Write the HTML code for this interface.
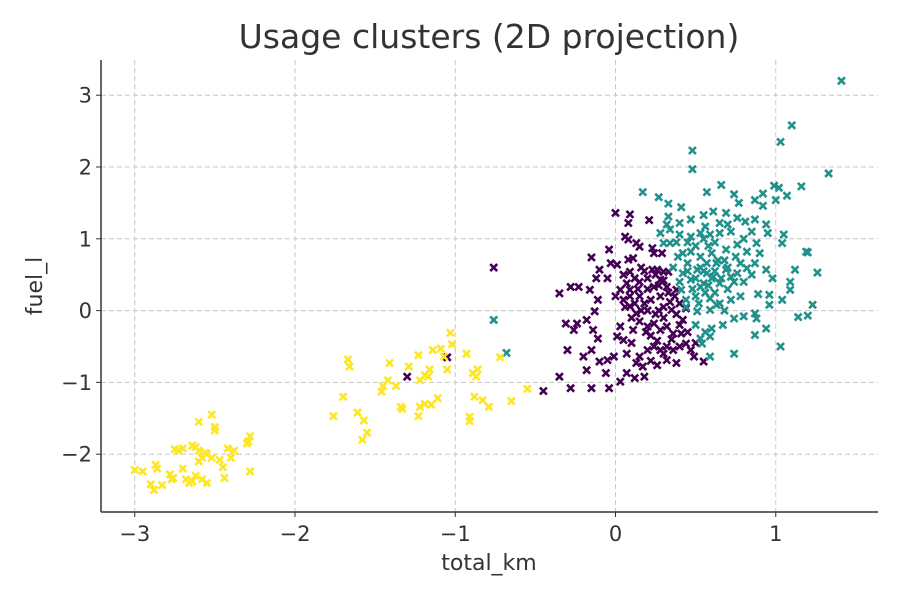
<!DOCTYPE html>
<html><head><meta charset="utf-8"><style>
body{margin:0;background:#fff;}
svg{display:block;font-family:"DejaVu Sans","Liberation Sans",sans-serif;}
</style></head><body>
<svg id="chart" width="900" height="600">
<rect width="900" height="600" fill="#fff"/>
<text x="489" y="48" text-anchor="middle" font-size="33" fill="#333">Usage clusters (2D projection)</text>
<g id="grid"></g>
<g id="pts"></g>
<g id="axes"></g>
<text x="489" y="570" text-anchor="middle" font-size="22" fill="#333">total_km</text>
<text transform="translate(42,286) rotate(-90)" text-anchor="middle" font-size="22" fill="#333">fuel_l</text>
</svg>
<script>
const xTicks=[-3,-2,-1,0,1];
const yTicks=[-2,-1,0,1,2,3];
const clusterNames=['cluster-0','cluster-1','cluster-2'];
const clusterColors=['#440154','#21918c','#fde725'];
const purplePts=[[0,1.36],[0.09,1.34],[0.08,1.22],[0.21,1.26],[0.06,1.03],[0.08,0.99],[0.13,0.94],[0.15,0.89],[0.23,0.87],[0.24,0.8],[0.29,0.8],[-0.04,0.85],[-0.15,0.74],[-0.1,0.57],[-0.12,0.45],[-0.03,0.66],[0.01,0.64],[0.08,0.71],[0.11,0.73],[0.09,0.54],[0.12,0.45],[0.03,0.29],[0.07,0.38],[0.15,0.4],[0.23,0.57],[0.26,0.57],[0.3,0.54],[0.33,0.54],[0.28,0.43],[0.24,0.33],[0.32,0.33],[0.37,0.2],[0.38,0.29],[0.4,0.1],[0.35,0.01],[0.28,0.2],[0.22,0.15],[0.15,0.2],[0.09,0.2],[0.05,0.15],[0.09,0.06],[0.13,-0.04],[0.15,-0.15],[0.11,-0.27],[0.2,-0.22],[0.24,-0.18],[0.28,-0.27],[0.32,-0.22],[0.36,-0.32],[0.41,-0.32],[0.44,-0.46],[0.4,-0.5],[0.36,-0.55],[0.32,-0.5],[0.28,-0.55],[0.24,-0.5],[0.2,-0.55],[0.15,-0.64],[0.13,-0.73],[0.17,-0.78],[0.26,-0.76],[0.32,-0.69],[0.38,-0.73],[0.47,-0.55],[0.49,-0.64],[0.55,-0.71],[0.42,-0.13],[0.44,0.03],[-0.28,0.33],[-0.23,0.33],[-0.35,0.24],[-0.16,0.29],[-0.11,0.15],[-0.13,-0.01],[-0.18,-0.13],[-0.24,-0.18],[-0.31,-0.18],[-0.26,-0.27],[-0.14,-0.27],[-0.11,-0.39],[-0.15,-0.55],[-0.2,-0.64],[-0.18,-0.83],[-0.1,-0.71],[-0.05,-0.69],[-0.01,-0.64],[-0.06,-0.87],[0.03,-0.99],[0.07,-0.87],[0.12,-0.94],[0.18,-0.92],[-0.3,-0.55],[-0.35,-0.92],[-0.28,-1.08],[-0.15,-1.08],[-0.04,-1.08],[-0.45,-1.12],[0.03,-0.22],[0.01,-0.36],[0.05,-0.41],[0.07,-0.6],[0.09,0.29],[-0.76,0.6],[-1.3,-0.92],[-1.05,-0.65],[0.18,0.1],[0.3,0.05],[0.25,-0.05],[0.2,0.45],[0.35,-0.4],[0.1,-0.1],[0.3,-0.1],[0.22,-0.35],[0.4,-0.2],[0.18,0.55],[0.27,0.35],[0.2,0.3],[0.25,0.5],[0.16,0.0],[0.12,0.1],[0.26,-0.42],[0.3,-0.6],[0.22,-0.7],[0.34,0.12],[0.14,0.3],[0.3,0.42],[0.06,0.05],[0.0,0.2],[-0.05,0.45],[0.38,-0.05],[0.45,-0.3],[0.5,-0.45],[0.27,0.0],[0.1,-0.45],[0.2,0.0],[0.33,0.25],[0.19,-0.3],[0.05,0.5],[0.16,0.6]];
const tealPts=[[1.41,3.2],[1.1,2.58],[1.03,2.35],[0.48,2.23],[0.48,1.97],[1.33,1.91],[0.17,1.65],[0.27,1.58],[0.33,1.49],[0.41,1.44],[0.57,1.65],[0.66,1.75],[0.74,1.62],[0.77,1.5],[0.87,1.54],[0.92,1.63],[0.99,1.74],[1.02,1.71],[1.07,1.6],[1.16,1.73],[1,1.54],[0.92,1.46],[0.33,1.31],[0.4,1.22],[0.47,1.27],[0.55,1.33],[0.61,1.38],[0.69,1.36],[0.76,1.29],[0.81,1.24],[0.87,1.27],[0.94,1.2],[0.95,1.08],[1.05,1.06],[1.04,0.94],[0.88,0.94],[0.82,0.82],[0.76,0.92],[0.69,0.85],[0.65,1.08],[0.59,1.06],[0.53,1.08],[0.47,1.03],[0.4,1.06],[0.34,1.13],[0.28,1.08],[0.3,0.94],[0.39,0.75],[0.47,0.82],[0.53,0.75],[0.57,0.66],[0.63,0.66],[0.69,0.57],[0.76,0.52],[0.82,0.59],[0.87,0.66],[0.94,0.57],[0.98,0.45],[1.12,0.57],[1.19,0.82],[1.2,0.81],[1.26,0.53],[1.09,0.4],[1.09,0.29],[1.04,0.15],[0.96,0.22],[0.96,0.08],[0.89,0.23],[0.78,0.2],[0.72,0.15],[0.65,0.1],[0.59,0.17],[0.53,0.33],[0.47,0.43],[0.42,0.52],[0.41,0.29],[0.44,0.15],[0.51,-0.01],[0.59,0.01],[0.63,0.08],[0.74,-0.11],[0.8,-0.08],[0.87,-0.04],[0.88,-0.11],[0.94,-0.25],[0.87,-0.34],[1.14,-0.09],[1.2,-0.07],[1.23,0.08],[1.03,-0.5],[0.74,-0.6],[0.67,-0.2],[0.6,-0.25],[0.59,-0.36],[0.53,-0.39],[0.54,-0.46],[0.59,-0.64],[0.55,0.38],[0.61,0.47],[0.57,0.52],[0.65,0.38],[0.51,0.57],[0.72,0.47],[0.78,0.66],[0.45,0.66],[0.34,0.94],[0.56,1.17],[0.65,1.22],[-0.76,-0.13],[-0.68,-0.59],[0.6,0.45],[0.55,0.55],[0.7,0.3],[0.5,0.2],[0.62,0.25],[0.68,0.7],[0.58,0.9],[0.45,0.95],[0.8,1.0],[0.72,1.1],[0.5,0.45],[0.53,0.6],[0.58,0.35],[0.62,0.55],[0.66,0.45],[0.7,0.6],[0.74,0.4],[0.48,0.3],[0.45,0.55],[0.56,0.25],[0.64,0.7],[0.42,0.8],[0.5,0.9],[0.6,0.8],[0.38,0.95],[0.32,1.2],[0.36,0.6],[0.4,0.4],[0.44,0.05],[0.52,0.1],[0.68,0.0],[0.8,0.4],[0.85,0.5],[0.9,0.8],[0.75,0.75],[0.55,1.0],[0.62,0.95],[0.7,1.2],[0.85,1.1],[0.5,-0.2],[0.56,-0.3]];
const yellowPts=[[-3,-2.22],[-2.95,-2.24],[-2.9,-2.42],[-2.88,-2.5],[-2.83,-2.43],[-2.87,-2.15],[-2.86,-2.2],[-2.78,-2.28],[-2.77,-2.35],[-2.75,-1.93],[-2.73,-1.95],[-2.7,-1.92],[-2.68,-2.35],[-2.66,-2.4],[-2.7,-2.2],[-2.64,-1.88],[-2.62,-1.9],[-2.6,-1.95],[-2.58,-2.05],[-2.62,-2.3],[-2.64,-2.38],[-2.58,-2.35],[-2.6,-2.1],[-2.55,-2],[-2.52,-2.05],[-2.5,-1.62],[-2.5,-1.67],[-2.52,-1.45],[-2.47,-2.08],[-2.45,-2.18],[-2.42,-1.92],[-2.38,-1.95],[-2.4,-2.05],[-2.44,-2.33],[-2.55,-2.4],[-2.6,-1.55],[-2.28,-1.75],[-2.29,-1.82],[-2.3,-1.85],[-2.28,-2.24],[-2.76,-2.33],[-2.56,-1.98],[-1.67,-0.68],[-1.66,-0.78],[-1.7,-1.2],[-1.76,-1.47],[-1.61,-1.42],[-1.57,-1.53],[-1.55,-1.7],[-1.58,-1.8],[-1.41,-0.73],[-1.46,-1.13],[-1.45,-1.05],[-1.42,-0.97],[-1.37,-1.05],[-1.34,-1.34],[-1.33,-1.37],[-1.29,-0.78],[-1.23,-0.62],[-1.22,-0.97],[-1.19,-0.9],[-1.16,-0.82],[-1.17,-0.92],[-1.23,-1.47],[-1.22,-1.34],[-1.19,-1.3],[-1.15,-1.31],[-1.11,-1.22],[-1.14,-0.55],[-1.09,-0.53],[-1.07,-0.64],[-1.05,-0.82],[-1.03,-0.31],[-1.02,-0.47],[-0.93,-0.6],[-0.88,-1.2],[-0.89,-0.87],[-0.86,-0.82],[-0.87,-0.92],[-0.91,-1.48],[-0.91,-1.54],[-0.83,-1.25],[-0.79,-1.34],[-0.72,-0.65],[-0.65,-1.26],[-0.55,-1.09]];
const series=[purplePts,tealPts,yellowPts];

const L=101,R=878,T=60,B=512;
function sx(v){return 615.5+v*160.25;}
function sy(v){return 310.6-v*71.8;}
const NS='http://www.w3.org/2000/svg';
function mk(tag,attrs,parent){const e=document.createElementNS(NS,tag);for(const k in attrs)e.setAttribute(k,attrs[k]);parent.appendChild(e);return e;}
const grid=document.getElementById('grid'),axes=document.getElementById('axes'),pts=document.getElementById('pts');
xTicks.forEach(t=>{
  const x=sx(t);
  const g=mk('line',{x1:x,x2:x,y1:T,y2:B,stroke:'#c8c8c8','stroke-dasharray':'5,3','stroke-width':1},grid);
  
  
  mk('line',{x1:x,x2:x,y1:B,y2:B+5,stroke:'#333','stroke-width':1},axes);
  const lb=mk('text',{x:x,y:B+29,'text-anchor':'middle','font-size':21,fill:'#333'},axes);
  lb.textContent=(t<0?'\u2212'+(-t):String(t));
  
  
});
yTicks.forEach(t=>{
  const y=sy(t);
  const g=mk('line',{x1:L,x2:R,y1:y,y2:y,stroke:'#c8c8c8','stroke-dasharray':'5,3','stroke-width':1},grid);
  
  
  mk('line',{x1:L-5,x2:L,y1:y,y2:y,stroke:'#333','stroke-width':1},axes);
  const lb=mk('text',{x:L-9,y:y+7.5,'text-anchor':'end','font-size':21,fill:'#333'},axes);
  lb.textContent=(t<0?'\u2212'+(-t):String(t));
  
  
});
mk('line',{x1:L,x2:L,y1:T,y2:B,stroke:'#333','stroke-width':1.5},axes);
mk('line',{x1:L,x2:R,y1:B,y2:B,stroke:'#333','stroke-width':1.5},axes);
series.forEach((arr,i)=>{
  arr.forEach(p=>{
    const x=sx(p[0]),y=sy(p[1]),s=3.5;
    const m=mk('path',{d:`M${x-s},${y-s}L${x+s},${y+s}M${x-s},${y+s}L${x+s},${y-s}`,stroke:clusterColors[i],'stroke-width':2.6,fill:'none'},pts);
    
    
  });
});
</script>
</body></html>
